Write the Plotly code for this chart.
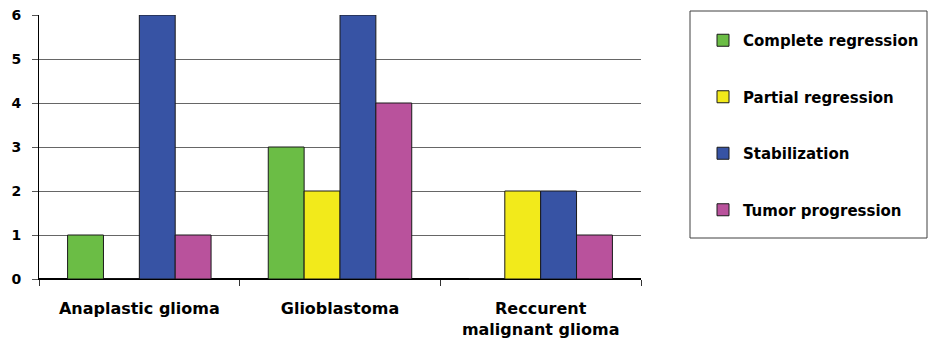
import plotly.graph_objects as go

categories = ["Anaplastic glioma", "Glioblastoma", "Reccurent<br>malignant glioma"]
series_names = ["Complete regression", "Partial regression", "Stabilization", "Tumor progression"]
complete_regression = [1, 3, 0]
partial_regression = [0, 2, 2]
stabilization = [6, 6, 2]
tumor_progression = [1, 4, 1]
y_ticks = [0, 1, 2, 3, 4, 5, 6]

colors = ["#6BBD45", "#F2EA1B", "#3753A4", "#B9529C"]
values = [complete_regression, partial_regression, stabilization, tumor_progression]

W, H = 930, 341
L, R, T, B = 39, 641, 15, 279

def px_x(px):
    return (px - L) / (R - L)

def px_y(py):
    return (B - py) / (B - T)

fig = go.Figure()
for name, vals, c in zip(series_names, values, colors):
    fig.add_trace(go.Bar(
        x=categories, y=vals, name=name, legendgroup=name,
        marker=dict(color=c, line=dict(color="#1a1a1a", width=1)),
    ))

font_family = "DejaVu Sans"

fig.update_layout(
    width=W, height=H,
    margin=dict(l=L, r=W - R, t=T, b=H - B, autoexpand=False),
    paper_bgcolor="white", plot_bgcolor="white",
    barmode="group", bargap=0.285, bargroupgap=0,
    font=dict(family=font_family, color="black"),
    showlegend=True,
    legend=dict(
        x=px_x(703), xanchor="left", y=px_y(24), yanchor="top",
        bgcolor="rgba(0,0,0,0)", borderwidth=0,
        font=dict(family=font_family, size=15, color="black", weight="bold"),
        tracegroupgap=34, traceorder="grouped",
    ),
    xaxis=dict(
        automargin=False,
        tickson="boundaries", ticks="outside", ticklen=6, tickcolor="#333333",
        showline=True, linecolor="black", linewidth=1,
        tickfont=dict(family=font_family, size=16, color="black", weight="bold"),
        ticklabelstandoff=15,
        showgrid=False,
    ),
    yaxis=dict(
        automargin=False,
        range=[0, 6], tickvals=y_ticks, ticks="outside", ticklen=6, tickcolor="#555555",
        showline=True, linecolor="black", linewidth=1,
        showgrid=True, gridcolor="#666666", gridwidth=1,
        zeroline=True, zerolinecolor="black",
        tickfont=dict(family=font_family, size=14, color="black", weight="bold"),
        ticklabelstandoff=8,
    ),
    shapes=[dict(
        type="rect", xref="paper", yref="paper",
        x0=px_x(690), x1=px_x(927), y0=px_y(238), y1=px_y(11),
        line=dict(color="#404040", width=1), fillcolor="rgba(0,0,0,0)",
    )],
)

fig.write_html(
    "out.html",
    config={"displayModeBar": False},
    post_script="document.body.style.margin='0px';document.body.style.padding='0px';",
)
